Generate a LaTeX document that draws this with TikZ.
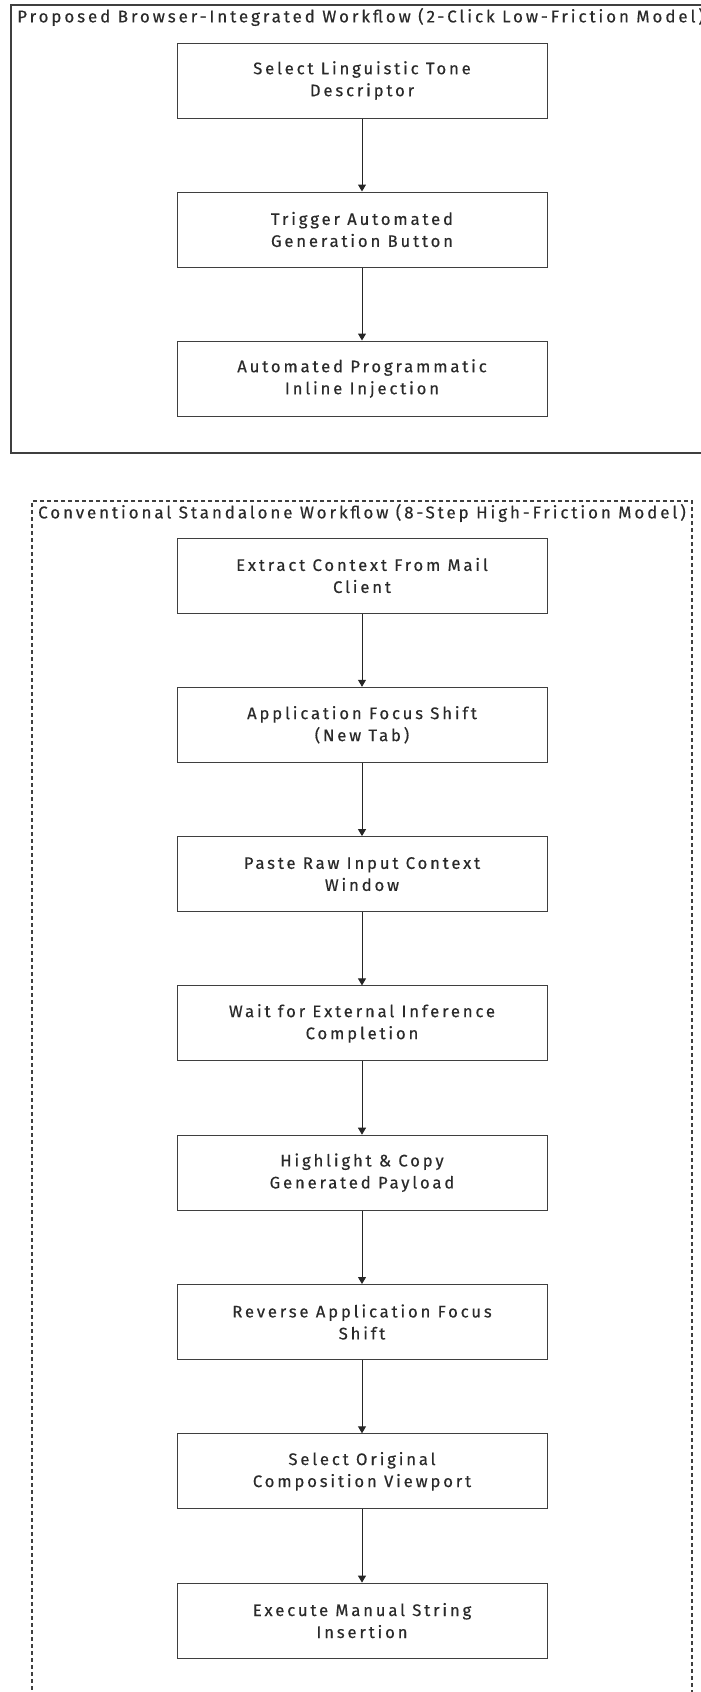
\documentclass[tikz,border=0pt]{standalone}
\usepackage{fontspec}
\usetikzlibrary{arrows.meta}
\newfontfamily\labfont[LetterSpace=17,FakeBold=0.4]{Fira Sans}
\definecolor{ink}{HTML}{2A2A2A}
\definecolor{edge}{HTML}{3F3F3F}
\begin{document}
\begin{tikzpicture}[x=1pt,y=-1pt,
  stepbox/.style={draw=edge,line width=1pt,fill=white,minimum width=370pt,minimum height=75pt,
    inner sep=0pt,align=center,text=ink,font=\labfont\fontsize{16.7}{22}\selectfont},
  frametitle/.style={anchor=west,inner sep=0pt,text=ink,font=\labfont\fontsize{17}{20}\selectfont},
  solidframe/.style={draw=edge,line width=1.5pt,inner sep=0pt},
  dashframe/.style={draw=edge,line width=1.4pt,dash pattern=on 4pt off 3pt,inner sep=0pt},
  flow/.style={draw=black!85,line width=1pt,-{Triangle[width=8pt,length=7pt]}}]
\useasboundingbox (0,0) rectangle (701,1692);
% frames
\node[solidframe,minimum width=702pt,minimum height=448pt] (f1) at (362,229) {};
\node[dashframe,minimum width=660pt,minimum height=1240pt] (f2) at (362,1121) {};
\node[frametitle] (t1) at (17,17) {Proposed Browser-Integrated Workflow (2-Click Low-Friction Model)};
\node[frametitle] (t2) at (38,513) {Conventional Standalone Workflow (8-Step High-Friction Model)};
% top flow
\node[stepbox] (a1) at (362,80.5) {Select Linguistic Tone\\Descriptor};
\node[stepbox] (a2) at (362,229.5) {Trigger Automated\\Generation Button};
\node[stepbox] (a3) at (362,378.5) {Automated Programmatic\\Inline Injection};
\draw[flow] (a1) -- (a2);
\draw[flow] (a2) -- (a3);
% bottom flow
\node[stepbox] (b1) at (362,575.5) {Extract Context From Mail\\Client};
\node[stepbox] (b2) at (362,724.8) {Application Focus Shift\\(New Tab)};
\node[stepbox] (b3) at (362,874.1) {Paste Raw Input Context\\Window};
\node[stepbox] (b4) at (362,1023.4) {Wait for External Inference\\Completion};
\node[stepbox] (b5) at (362,1172.7) {Highlight \& Copy\\Generated Payload};
\node[stepbox] (b6) at (362,1322) {Reverse Application Focus\\Shift};
\node[stepbox] (b7) at (362,1471.3) {Select Original\\Composition Viewport};
\node[stepbox] (b8) at (362,1620.6) {Execute Manual String\\Insertion};
\foreach \p/\q in {b1/b2,b2/b3,b3/b4,b4/b5,b5/b6,b6/b7,b7/b8}
  \draw[flow] (\p) -- (\q);
\end{tikzpicture}
\end{document}
